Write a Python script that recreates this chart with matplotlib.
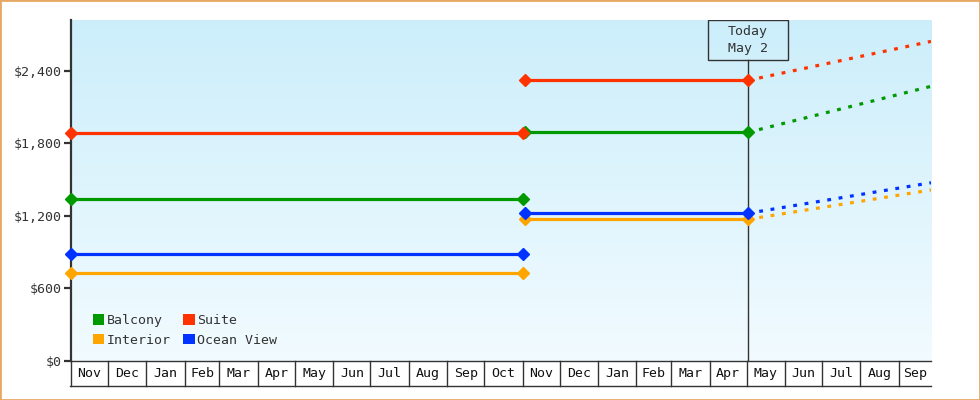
import datetime as dt
import numpy as np
import matplotlib
matplotlib.use("Agg")
import matplotlib.pyplot as plt
import matplotlib.dates as mdates
from matplotlib.patches import Rectangle, Patch
import matplotlib.transforms as mtransforms

# ---------------- data ----------------
series = ["Balcony", "Suite", "Interior", "Ocean View"]
colors = {"Balcony": "#009900", "Suite": "#ff3300", "Interior": "#ffa500", "Ocean View": "#0033ff"}

period1_dates = [dt.date(2021, 11, 1), dt.date(2022, 11, 1)]
period1 = {"Balcony": 1336, "Suite": 1882, "Interior": 728, "Ocean View": 880}

period2_dates = [dt.date(2022, 11, 3), dt.date(2023, 5, 2)]
period2 = {"Balcony": 1890, "Suite": 2320, "Interior": 1170, "Ocean View": 1220}

forecast_dates = [dt.date(2023, 5, 2), dt.date(2023, 9, 27)]
forecast_end = {"Balcony": 2271, "Suite": 2643, "Interior": 1413, "Ocean View": 1473}

today = dt.date(2023, 5, 2)
today_label = "Today\nMay 2"

month_starts = [dt.date(2021, 11, 1)]
while month_starts[-1] < dt.date(2023, 9, 1):
    d = month_starts[-1]
    month_starts.append(dt.date(d.year + (d.month == 12), d.month % 12 + 1, 1))
x_end = dt.date(2023, 9, 27)

y_ticks = [0, 600, 1200, 1800, 2400]
y_max = 2820

# ---------------- figure ----------------
W, H = 980, 400
fig = plt.figure(figsize=(W / 100, H / 100), dpi=100)
fig.patch.set_facecolor("white")

L, R, T, B = 71, 931, 20, 360.7
pos = [L / W, (H - B) / H, (R - L) / W, (B - T) / H]

# gradient background
bg = fig.add_axes(pos, zorder=0)
grad = np.linspace(0, 1, 256).reshape(-1, 1)
top = np.array([204, 238, 251]) / 255
bot = np.array([242, 251, 255]) / 255
img = top[None, None, :] * (1 - grad[:, :, None]) + bot[None, None, :] * grad[:, :, None]
bg.imshow(img, aspect="auto", extent=[0, 1, 0, 1])
bg.set_axis_off()

ax = fig.add_axes(pos, zorder=1)
ax.set_facecolor("none")

font = "DejaVu Sans Mono"
fs = 9.5
tc = "#333333"

dn = mdates.date2num
xmin, xmax = dn(month_starts[0]), dn(x_end)
ax.set_xlim(xmin, xmax)
ax.set_ylim(0, y_max)

lw = 2.3
for s in series:
    c = colors[s]
    ax.plot([dn(d) for d in period1_dates], [period1[s]] * 2, color=c, lw=lw,
            marker="D", ms=6.5, zorder=3, clip_on=False)
    ax.plot([dn(d) for d in period2_dates], [period2[s]] * 2, color=c, lw=lw,
            marker="D", ms=6.5, zorder=3, clip_on=False)
    ax.plot([dn(d) for d in forecast_dates], [period2[s], forecast_end[s]], color=c,
            lw=lw, linestyle=(0, (1.2, 2.4)), zorder=3)

# today line and box
ax_h = B - T
box_bottom = 1 - 40 / ax_h
ax.plot([dn(today)] * 2, [0, box_bottom], transform=mtransforms.blended_transform_factory(ax.transData, ax.transAxes),
        color=tc, lw=1.0, zorder=2)
tfrac = (dn(today) - xmin) / (xmax - xmin)
ax.add_patch(Rectangle((tfrac - 40 / (R - L), box_bottom), 80 / (R - L), 1 - box_bottom,
                       transform=ax.transAxes, fill=False, edgecolor=tc, lw=1.0, zorder=4))
ax.text(tfrac, (1 + box_bottom) / 2, today_label, transform=ax.transAxes, ha="center", va="center",
        fontsize=fs, family=font, color=tc, linespacing=1.35, zorder=5)

# spines / ticks
for sp in ["top", "right"]:
    ax.spines[sp].set_visible(False)
ax.spines["left"].set_color(tc)
ax.spines["left"].set_linewidth(1.6)
ax.spines["bottom"].set_color(tc)
ax.spines["bottom"].set_linewidth(1.0)
ax.set_yticks(y_ticks)
ax.set_yticklabels([f"${v:,}" for v in y_ticks], family=font, fontsize=fs, color=tc)
ax.tick_params(axis="y", length=5, width=1.6, color=tc, pad=2)
ax.set_xticks([])

# month cells below axis
bt = mtransforms.blended_transform_factory(ax.transData, ax.transAxes)
cell_h = 25 / ax_h
for i, m in enumerate(month_starts):
    x0 = dn(m)
    ax.plot([x0, x0], [0, -cell_h], transform=bt, color=tc, lw=1.0, clip_on=False)
    x1 = dn(month_starts[i + 1]) if i + 1 < len(month_starts) else xmax
    x1 = min(x1, xmax)
    ax.text((x0 + x1) / 2, -cell_h / 2, m.strftime("%b"), transform=bt, ha="center", va="center",
            fontsize=fs, family=font, color="#111111", clip_on=False)
ax.plot([xmin - 1, xmax], [-cell_h, -cell_h], transform=bt, color=tc, lw=1.0, clip_on=False)

# legend
order = ["Balcony", "Interior", "Suite", "Ocean View"]
handles = [Patch(facecolor=colors[s], edgecolor="none") for s in order]
leg = ax.legend(handles, order, loc="lower left", bbox_to_anchor=(22 / (R - L), 14 / ax_h),
                ncol=2, frameon=False, handlelength=0.85, handleheight=0.85, handletextpad=0.2,
                columnspacing=0.95, labelspacing=0.5, borderpad=0, borderaxespad=0,
                prop={"family": font, "size": fs})
for t in leg.get_texts():
    t.set_color(tc)

# figure border
fig.patches.append(Rectangle((0, 0), 1, 1, transform=fig.transFigure, fill=False,
                             edgecolor="#e8a865", lw=2.0))

fig.savefig("out.png", dpi=100)
